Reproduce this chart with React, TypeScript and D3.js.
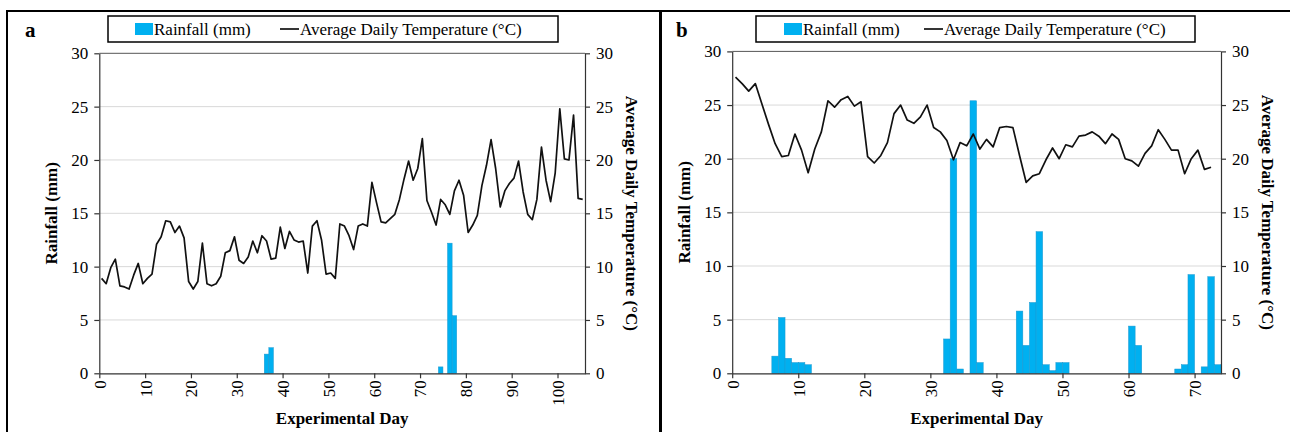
import React, { useEffect, useRef } from 'react';
import * as d3 from 'd3';

// Panel a: average daily temperature, one value per experimental day (0..105)
const temperatureA = [
  8.9, 8.4, 9.9, 10.7, 8.2, 8.1, 7.9, 9.2, 10.3, 8.4,
  8.9, 9.3, 12.1, 12.8, 14.3, 14.2, 13.2, 13.8, 12.7, 8.6,
  7.9, 8.6, 12.2, 8.4, 8.2, 8.4, 9.1, 11.3, 11.5, 12.8,
  10.6, 10.3, 10.9, 12.4, 11.3, 12.9, 12.4, 10.7, 10.8, 13.7,
  11.7, 13.3, 12.5, 12.3, 12.4, 9.4, 13.8, 14.3, 12.5, 9.3,
  9.4, 8.9, 14.0, 13.8, 12.9, 11.6, 13.8, 14.0, 13.8, 17.9,
  16.0, 14.2, 14.1, 14.5, 14.9, 16.3, 18.2, 19.9, 18.1, 19.2,
  22.0, 16.2, 15.1, 13.9, 16.3, 15.8, 14.9, 17.1, 18.1, 16.7,
  13.2, 13.9, 14.8, 17.6, 19.5, 21.9, 19.2, 15.6, 17.1, 17.8,
  18.3, 19.9, 17.0, 14.9, 14.4, 16.3, 21.2, 18.1, 16.1, 18.8,
  24.8, 20.1, 20.0, 24.2, 16.4, 16.3,
];
const rainDaysA = [36, 37, 74, 76, 77];
const rainValuesA = [1.8, 2.4, 0.6, 12.2, 5.4];
const dayTicksA = [0, 10, 20, 30, 40, 50, 60, 70, 80, 90, 100];

// Panel b: days 0..72 temperature, rainfall up to day 73
const temperatureB = [
  27.6, 27.0, 26.3, 27.0, 25.1, 23.2, 21.4, 20.2, 20.3, 22.3,
  20.8, 18.7, 20.9, 22.5, 25.4, 24.8, 25.5, 25.8, 24.9, 25.3,
  20.2, 19.6, 20.3, 21.5, 24.2, 25.0, 23.6, 23.3, 23.9, 25.0,
  22.9, 22.5, 21.7, 19.9, 21.5, 21.2, 22.3, 20.9, 21.8, 21.1,
  22.9, 23.0, 22.9, 20.3, 17.8, 18.4, 18.6, 19.9, 21.0, 20.0,
  21.3, 21.1, 22.1, 22.2, 22.5, 22.1, 21.4, 22.3, 21.8, 20.0,
  19.8, 19.3, 20.5, 21.2, 22.7, 21.8, 20.8, 20.8, 18.6, 20.0,
  20.8, 19.0, 19.2,
];
const rainDaysB = [6, 7, 8, 9, 10, 11, 32, 33, 34, 36, 37, 43, 44, 45, 46, 47, 48, 49, 50, 60, 61, 67, 68, 69, 71, 72, 73];
const rainValuesB = [1.6, 5.2, 1.4, 1.0, 1.0, 0.8, 3.2, 20.0, 0.4, 25.4, 1.0, 5.8, 2.6, 6.6, 13.2, 0.8, 0.25, 1.0, 1.0, 4.4, 2.6, 0.4, 0.8, 9.2, 0.6, 9.0, 0.8];
const dayTicksB = [0, 10, 20, 30, 40, 50, 60, 70];

const valueTicks = [0, 5, 10, 15, 20, 25, 30];

const FONT = "'Liberation Serif', 'Times New Roman', Times, serif";
const BAR = '#00b0f0';

function drawPanel(svg, p) {
  const g = svg.append('g');

  // Frame
  g.append('rect')
    .attr('x', p.frame[0]).attr('y', p.frame[1])
    .attr('width', p.frame[2]).attr('height', p.frame[3])
    .attr('fill', 'none').attr('stroke', '#000').attr('stroke-width', 2);

  const x = d3.scaleLinear().domain([0, p.nDays]).range([p.left, p.right]);
  const yRain = d3.scaleLinear().domain([0, 30]).range([p.bottom, p.top]);
  const yTemp = d3.scaleLinear().domain([0, 30]).range([p.bottom, p.top]);

  // Gridlines
  valueTicks.filter(v => v > 0).forEach(v => {
    g.append('line')
      .attr('x1', p.left).attr('x2', p.right)
      .attr('y1', yRain(v)).attr('y2', yRain(v))
      .style('stroke', v === 30 ? '#555' : '#d9d9d9')
      .style('stroke-width', 1);
  });

  // Rainfall bars
  const rain = p.rainDays.map((d, i) => ({ day: d, mm: p.rainValues[i] }));
  g.selectAll('.bar')
    .data(rain)
    .enter()
    .append('rect')
    .attr('class', 'bar')
    .attr('x', d => x(d.day))
    .attr('width', x(1) - x(0))
    .attr('y', d => yRain(d.mm))
    .attr('height', d => yRain(0) - yRain(d.mm))
    .style('fill', BAR)
    .style('stroke', '#1c98cf')
    .style('stroke-width', 0.5);

  // Temperature line
  const line = d3.line()
    .x((d, i) => x(i + 0.5))
    .y(d => yTemp(d));
  g.append('path')
    .datum(p.temp)
    .attr('d', line)
    .style('fill', 'none')
    .style('stroke', '#111')
    .style('stroke-width', 1.7)
    .style('stroke-linejoin', 'round');

  // Axes
  const styleAxis = (sel) => {
    sel.attr('font-family', null).attr('font-size', null);
    sel.selectAll('path, line').style('stroke', '#333').style('stroke-width', 1.2);
    sel.selectAll('text').attr('font-family', FONT).attr('font-size', 17).style('fill', '#000');
  };

  g.append('g')
    .attr('transform', `translate(${p.left},0)`)
    .call(d3.axisLeft(yRain).tickValues(valueTicks).tickSize(5).tickSizeOuter(0).tickPadding(6))
    .call(styleAxis);

  g.append('g')
    .attr('transform', `translate(${p.right},0)`)
    .call(d3.axisRight(yTemp).tickValues(valueTicks).tickSize(5).tickSizeOuter(0).tickPadding(6))
    .call(styleAxis);

  const xAxis = g.append('g')
    .attr('transform', `translate(0,${p.bottom})`)
    .call(d3.axisBottom(x).tickValues(p.dayTicks).tickSize(5).tickSizeOuter(0).tickFormat(d3.format('d')))
    .call(styleAxis);
  xAxis.selectAll('text')
    .attr('transform', 'rotate(-90)')
    .attr('text-anchor', 'end')
    .attr('x', -7)
    .attr('y', 0)
    .attr('dy', '0.35em');

  // Axis titles
  const title = (tx, ty, rot, txt) => g.append('text')
    .attr('transform', `translate(${tx},${ty}) rotate(${rot})`)
    .attr('text-anchor', 'middle')
    .attr('font-family', FONT)
    .attr('font-weight', 'bold')
    .attr('font-size', 17)
    .text(txt);

  const midY = (p.top + p.bottom) / 2;
  title(p.left - 42, midY, -90, 'Rainfall (mm)');
  title(p.right + 41, midY, 90, 'Average Daily Temperature (°C)');
  title((p.left + p.right) / 2, 424, 0, 'Experimental Day');

  // Panel letter
  g.append('text')
    .attr('x', p.letterX).attr('y', 37)
    .attr('font-family', FONT).attr('font-weight', 'bold').attr('font-size', 21)
    .text(p.letter);

  // Legend
  const lg = p.legend;
  g.append('rect')
    .attr('x', lg.x).attr('y', 16).attr('width', lg.w).attr('height', 26)
    .style('fill', '#fff').style('stroke', '#000').style('stroke-width', 1.5);
  g.append('rect')
    .attr('x', lg.sq).attr('y', 23).attr('width', 18).attr('height', 12)
    .style('fill', BAR);
  g.append('text')
    .attr('x', lg.sq + 19).attr('y', 35)
    .attr('font-family', FONT).attr('font-size', 17)
    .text('Rainfall (mm)');
  g.append('line')
    .attr('x1', lg.ln).attr('x2', lg.ln + 19).attr('y1', 29).attr('y2', 29)
    .style('stroke', '#111').style('stroke-width', 1.7);
  g.append('text')
    .attr('x', lg.ln + 20).attr('y', 35)
    .attr('font-family', FONT).attr('font-size', 17)
    .text('Average Daily Temperature (°C)');
}

const App = () => {
  const svgRef = useRef();

  useEffect(() => {
    const svg = d3.select(svgRef.current);
    svg.selectAll('*').remove();

    drawPanel(svg, {
      frame: [7, 11, 653, 440],
      letter: 'a', letterX: 25,
      left: 99.3, right: 585, top: 53.3, bottom: 373.3,
      nDays: 106,
      temp: temperatureA,
      rainDays: rainDaysA, rainValues: rainValuesA,
      dayTicks: dayTicksA,
      legend: { x: 108, w: 450, sq: 135, ln: 280 },
    });

    drawPanel(svg, {
      frame: [661, 11, 640, 440],
      letter: 'b', letterX: 676,
      left: 732.2, right: 1221, top: 51.4, bottom: 373.3,
      nDays: 74,
      temp: temperatureB,
      rainDays: rainDaysB, rainValues: rainValuesB,
      dayTicks: dayTicksB,
      legend: { x: 756, w: 439, sq: 784, ln: 924 },
    });
  }, []);

  return (
    <svg
      ref={svgRef}
      width={1290}
      height={432}
      fontFamily={FONT}
      style={{ position: 'absolute', left: 0, top: 0, background: '#fff' }}
    />
  );
};

export default App;
